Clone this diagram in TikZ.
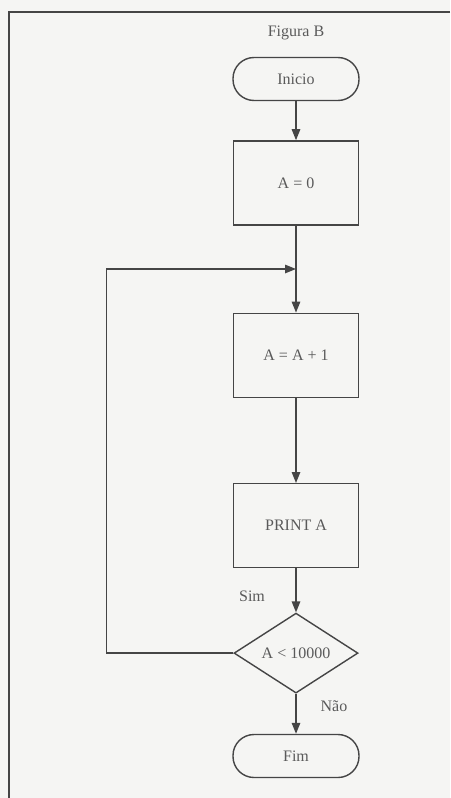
\documentclass[tikz,border=0pt]{standalone}
\usepackage{fontspec}
\setmainfont{Liberation Serif}
\usetikzlibrary{positioning, arrows.meta, shapes.geometric}

\definecolor{paper}{HTML}{F5F5F3}
\definecolor{ink}{HTML}{454545}
\definecolor{printink}{HTML}{5A5A5A}

\begin{document}
\begin{tikzpicture}[
  x=1pt, y=-1pt,
  node distance = 40pt,
  every node/.style = {text=printink, font=\fontsize{16}{19}\selectfont},
  box/.style  = {draw=ink, line width=1.4pt, minimum width=125pt, minimum height=84pt},
  term/.style = {draw=ink, line width=1.4pt, rounded corners=21pt,
                 minimum width=126pt, minimum height=43pt},
  cond/.style = {draw=ink, line width=1.4pt, diamond, aspect=1.55, inner sep=0pt,
                 minimum width=124pt, minimum height=80pt},
  arr/.style  = {draw=ink, line width=1.4pt, -{Triangle[length=11pt, width=8.5pt]}},
]
  % paper and open frame
  \fill[paper] (0,0) rectangle (450,798);
  \useasboundingbox (0,0) rectangle (450,798);
  \draw[ink, line width=2.6pt] (450,12) -- (9,12) -- (9,798);

  \node (title) at (296,33) {Figura B};
  \node[term] (start) at (296,79) {Inicio};
  \node[box, below=39pt of start] (init) {A = 0};
  \node[box, below=87pt of init]  (incr) {A = A + 1};
  \node[box, below=85pt of incr]  (print) {PRINT A};
  \node[cond, below=44pt of print] (test) {A < 10000};
  \node[term, below=40pt of test]  (stop) {Fim};

  \node (yes) at (252,596) {Sim};
  \node (no)  at (334,706) {Não};

  \coordinate (join) at (init.south |- 0,269);

  \draw[arr] (start) -- (init);
  \draw[arr] (init)  -- (incr);
  \draw[arr] (incr)  -- (print);
  \draw[arr] (print) -- (test);
  \draw[arr] (test)  -- (stop);
  \draw[arr] (test.west) -- ++(-127,0) |- (join);
\end{tikzpicture}
\end{document}
